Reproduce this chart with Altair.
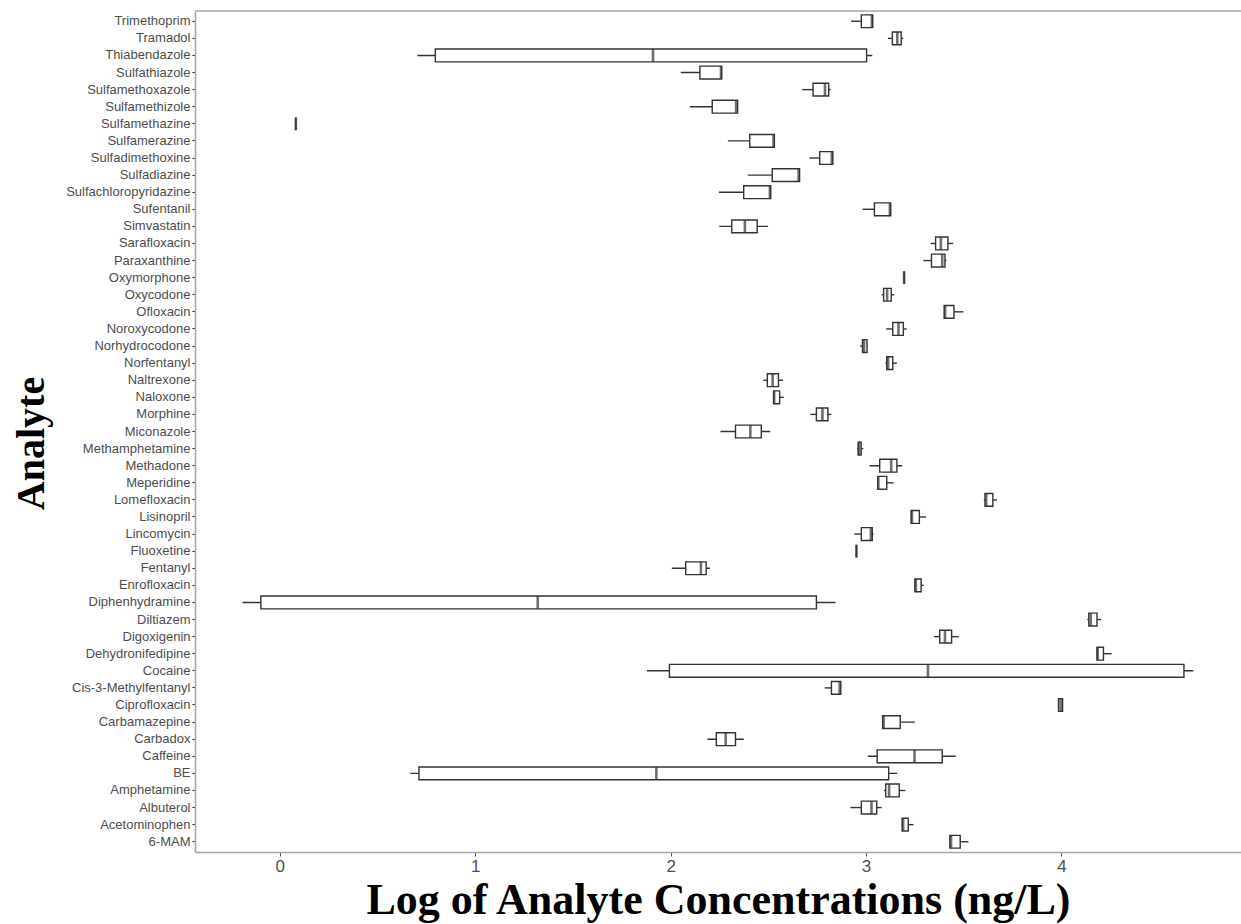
import altair as alt
import pandas as pd

# Analytes listed top to bottom
analytes = [
    "Trimethoprim", "Tramadol", "Thiabendazole", "Sulfathiazole", "Sulfamethoxazole",
    "Sulfamethizole", "Sulfamethazine", "Sulfamerazine", "Sulfadimethoxine", "Sulfadiazine",
    "Sulfachloropyridazine", "Sufentanil", "Simvastatin", "Sarafloxacin", "Paraxanthine",
    "Oxymorphone", "Oxycodone", "Ofloxacin", "Noroxycodone", "Norhydrocodone",
    "Norfentanyl", "Naltrexone", "Naloxone", "Morphine", "Miconazole",
    "Methamphetamine", "Methadone", "Meperidine", "Lomefloxacin", "Lisinopril",
    "Lincomycin", "Fluoxetine", "Fentanyl", "Enrofloxacin", "Diphenhydramine",
    "Diltiazem", "Digoxigenin", "Dehydronifedipine", "Cocaine", "Cis-3-Methylfentanyl",
    "Ciprofloxacin", "Carbamazepine", "Carbadox", "Caffeine", "BE",
    "Amphetamine", "Albuterol", "Acetominophen", "6-MAM",
]

# Five-number summaries of log10 concentrations (ng/L)
lower = [
    2.924, 3.112, 0.704, 2.052, 2.673, 2.098, 0.082, 2.293, 2.711, 2.395,
    2.247, 2.982, 2.249, 3.331, 3.294, 3.195, 3.080, 3.400, 3.103, 2.970,
    3.099, 2.474, 2.527, 2.715, 2.255, 2.955, 3.018, 3.060, 3.603, 3.228,
    2.940, 2.951, 2.006, 3.248, -0.191, 4.132, 3.348, 4.180, 1.879, 2.788,
    3.985, 3.083, 2.188, 3.009, 0.668, 3.091, 2.920, 3.183, 3.429,
]
q1 = [
    2.976, 3.135, 0.796, 2.150, 2.729, 2.213, 0.082, 2.405, 2.763, 2.520,
    2.374, 3.043, 2.313, 3.356, 3.335, 3.195, 3.090, 3.400, 3.137, 2.982,
    3.106, 2.495, 2.527, 2.746, 2.332, 2.960, 3.070, 3.060, 3.609, 3.231,
    2.976, 2.951, 2.077, 3.250, -0.097, 4.140, 3.377, 4.182, 1.994, 2.823,
    3.985, 3.085, 2.234, 3.057, 0.712, 3.101, 2.976, 3.185, 3.429,
]
median = [
    3.030, 3.160, 1.910, 2.258, 2.790, 2.335, 0.082, 2.527, 2.825, 2.655,
    2.508, 3.122, 2.380, 3.383, 3.390, 3.195, 3.108, 3.405, 3.166, 2.990,
    3.113, 2.522, 2.530, 2.777, 2.408, 2.965, 3.129, 3.063, 3.615, 3.235,
    3.025, 2.951, 2.155, 3.255, 1.320, 4.150, 3.404, 4.186, 3.317, 2.865,
    3.996, 3.090, 2.282, 3.248, 1.927, 3.118, 3.028, 3.190, 3.435,
]
q3 = [
    3.034, 3.180, 3.003, 2.261, 2.809, 2.343, 0.082, 2.531, 2.830, 2.660,
    2.512, 3.126, 2.443, 3.419, 3.404, 3.195, 3.129, 3.450, 3.191, 3.005,
    3.137, 2.552, 2.558, 2.805, 2.464, 2.975, 3.158, 3.106, 3.649, 3.273,
    3.032, 2.951, 2.182, 3.282, 2.746, 4.182, 3.438, 4.215, 4.627, 2.871,
    4.006, 3.175, 2.332, 3.390, 3.116, 3.170, 3.055, 3.216, 3.482,
]
upper = [
    3.034, 3.190, 3.032, 2.261, 2.819, 2.343, 0.082, 2.531, 2.830, 2.660,
    2.512, 3.126, 2.499, 3.446, 3.411, 3.195, 3.144, 3.498, 3.208, 3.010,
    3.158, 2.575, 2.579, 2.823, 2.510, 2.986, 3.185, 3.141, 3.670, 3.307,
    3.039, 2.951, 2.201, 3.295, 2.844, 4.203, 3.475, 4.257, 4.675, 2.871,
    4.006, 3.250, 2.374, 3.459, 3.160, 3.201, 3.080, 3.243, 3.524,
]

df = pd.DataFrame({
    "analyte": analytes,
    "lower": lower,
    "q1": q1,
    "median": median,
    "q3": q3,
    "upper": upper,
})

INK = "#333333"
GREY_TEXT = "#4d4d4d"
FRAME = "#a6a6a6"
PLOT_W = 1046
PLOT_H = 841

x_scale = alt.Scale(domain=[-0.434, 4.919], nice=False, zero=False)

y_enc = alt.Y(
    "analyte:N",
    sort=analytes,
    scale=alt.Scale(paddingInner=0, paddingOuter=0.1),
    axis=alt.Axis(
        title="Analyte",
        labelFont="Liberation Sans",
        labelFontSize=13,
        labelColor=GREY_TEXT,
        labelPadding=2,
        tickColor=INK,
        tickSize=3,
        domain=True,
        domainColor=FRAME,
        domainWidth=1.6,
        titleFont="Liberation Serif",
        titleFontWeight="bold",
        titleFontSize=40,
        titleColor="black",
        titleAngle=270,
        titleAlign="center",
        titleBaseline="alphabetic",
        titleX=-152,
        titleY=432,
    ),
)

x_axis = alt.Axis(
    title="Log of Analyte Concentrations (ng/L)",
    values=[0, 1, 2, 3, 4],
    format="d",
    grid=False,
    domain=True,
    domainColor=FRAME,
    domainWidth=1.6,
    labelFont="Liberation Sans",
    labelFontSize=17,
    labelColor=GREY_TEXT,
    labelPadding=2,
    tickColor=GREY_TEXT,
    tickSize=4,
    titleFont="Liberation Serif",
    titleFontWeight="bold",
    titleFontSize=44,
    titleColor="black",
    titleBaseline="alphabetic",
    titleY=61,
)

base = alt.Chart(df)

whiskers = base.mark_rule(color=INK, strokeWidth=1.4).encode(
    x=alt.X("lower:Q", scale=x_scale, axis=x_axis),
    x2="upper:Q",
    y=y_enc,
)

boxes = base.mark_bar(
    fill="white", stroke=INK, strokeWidth=1.4, height=alt.RelativeBandSize(0.75)
).encode(
    x=alt.X("q1:Q", scale=x_scale),
    x2="q3:Q",
    y=y_enc,
)

medians = base.mark_tick(color=INK, thickness=2.6, size=12.8).encode(
    x=alt.X("median:Q", scale=x_scale),
    y=y_enc,
)

# Top edge of the panel frame
top_edge = alt.Chart(pd.DataFrame({"k": [0]})).mark_rule(
    color=FRAME, strokeWidth=1.6
).encode(x=alt.value(0), x2=alt.value(PLOT_W + 4), y=alt.value(0))

chart = (
    alt.layer(whiskers, boxes, medians, top_edge)
    .properties(
        width=PLOT_W,
        height=PLOT_H,
        autosize=alt.AutoSizeParams(type="none"),
        padding={"left": 195, "top": 11, "right": 0, "bottom": 72},
        background="white",
    )
    .configure_view(strokeWidth=0)
)

chart.save("out.html", embed_options={"renderer": "svg", "actions": False})
